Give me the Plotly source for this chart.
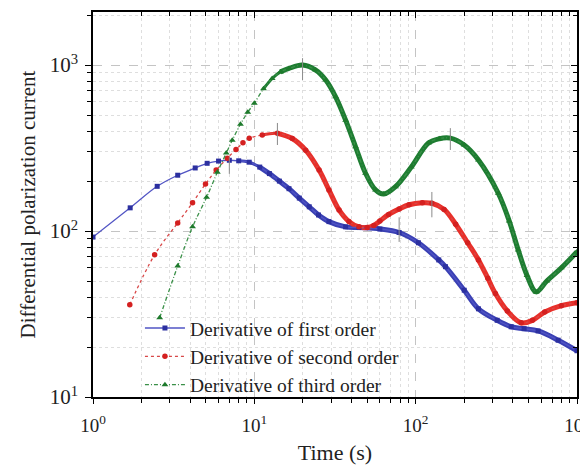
import plotly.graph_objects as go

# ---------------- data ----------------
t_first = [1.0, 1.7, 2.5, 3.35, 4.3, 5.1, 6.0, 7.0, 8.0, 9.3, 10.8, 12.4, 14.3, 16.4, 19, 21.9,
           25, 29, 36.8, 44.5, 60, 79, 104, 139, 153, 200, 245, 320, 391, 470, 574, 764, 1000]
y_first = [92, 138, 186, 217, 240, 256, 264, 267, 265, 260, 243, 222, 200, 180, 158, 140,
           125, 114, 106, 105, 103, 98, 85, 67, 61, 44, 34, 29, 26.5, 25.8, 25, 22, 19]

t_second = [1.69, 2.41, 3.35, 4.14, 4.98, 5.8, 6.8, 7.7, 8.5, 9.3, 11.2, 13.9, 17.2, 20.8, 25.2,
            29, 33.5, 38.6, 44.5, 50, 55, 60, 68, 79, 91, 110, 126, 150, 177, 210, 245,
            280, 312, 370, 451, 530, 631, 800, 1000]
y_second = [36, 72, 112, 148, 192, 233, 275, 310, 340, 362, 379, 388, 361, 307, 233,
            177, 134, 114, 106, 105, 108, 115, 126, 136, 144, 148, 147, 135, 110, 85, 67,
            52, 42, 33, 28, 29, 32.5, 35.5, 37]

t_third = [2.59, 3.35, 4.14, 5.06, 5.9, 6.7, 7.3, 8.2, 9.1, 10, 11.4, 12.9, 14.5, 16.4, 19.9,
           24, 27.7, 31.9, 36.8, 42.4, 48.9, 56.4, 63.4, 75, 94, 120, 140, 164, 200, 245, 325,
           380, 432, 490, 558, 650, 800, 1000]
y_third = [30, 61.5, 106, 160, 226, 295, 353, 440, 520, 590, 720, 830, 910, 955, 1000,
           933, 813, 644, 466, 322, 223, 177, 167, 185, 243, 339, 360, 363, 330, 268, 169,
           115, 77, 54, 43, 50, 60, 75]

# error bars (time, value, plus, minus)
err_t = [7.0, 79, 13.9, 126, 19.9, 164]
err_y = [267, 98, 388, 147, 1000, 363]
err_plus = [13, 23, 60, 25, 101, 54]
err_minus = [46, 12, 58, 26, 187, 55]

names = ["Derivative of first order", "Derivative of second order", "Derivative of third order"]

x_ticks = [1, 10, 100, 1000]
x_tick_text = ["10<sup>0</sup>", "10<sup>1</sup>", "10<sup>2</sup>", "10<sup>3</sup>"]
y_ticks = [10, 100, 1000]
y_tick_text = ["10<sup>1</sup>", "10<sup>2</sup>", "10<sup>3</sup>"]
x_minor = [2, 3, 4, 5, 6, 7, 8, 9, 20, 30, 40, 50, 60, 70, 80, 90,
           200, 300, 400, 500, 600, 700, 800, 900]
y_minor = [20, 30, 40, 50, 60, 70, 80, 90, 200, 300, 400, 500, 600, 700, 800, 900, 2000]

# ---------------- figure ----------------
FONT = "Liberation Serif, Times New Roman, serif"
fig = go.Figure()

series = [
    (t_first, y_first, names[0], "#5154c4", "#2c30a0", "#3a40b4", "solid", "square", 5, 10),
    (t_second, y_second, names[1], "#d84848", "#d42020", "#e8302a", "3px,3px", "circle", 5.5, 13),
    (t_third, y_third, names[2], "#3a9048", "#1e7a2c", "#1e7d32", "4px,2px,1px,2px", "triangle-up", 6, 14),
]

# dense-marker part of each curve (in the original the markers merge into a thick line)
for t, y, name, lc, mc, tc, dash, sym, ms, thr in series:
    for lo, w in ((thr * 0.75, 3), (thr, 5)):
        tt = [a for a in t if a >= lo]
        yy = [b for a, b in zip(t, y) if a >= lo]
        fig.add_trace(go.Scatter(x=tt, y=yy, mode="lines",
                                 line=dict(color=tc, width=w, shape="spline"),
                                 showlegend=False, hoverinfo="skip"))

for t, y, name, lc, mc, tc, dash, sym, ms, thr in series:
    fig.add_trace(go.Scatter(x=t, y=y, mode="lines+markers", name=name,
                             line=dict(color=lc, width=1.3, dash=dash, shape="spline"),
                             marker=dict(color=mc, symbol=sym, size=ms)))

fig.add_trace(go.Scatter(x=err_t, y=err_y, mode="markers", marker=dict(size=1, color="rgba(0,0,0,0)"),
                         showlegend=False, hoverinfo="skip",
                         error_y=dict(type="data", symmetric=False, array=err_plus, arrayminus=err_minus,
                                      color="#8a8a8a", thickness=1, width=0)))

# empty trace that only creates the mirror axes (top/right, inward ticks)
fig.add_trace(go.Scatter(x=[], y=[], xaxis="x2", yaxis="y2", showlegend=False))

grid_major = dict(showgrid=True, gridcolor="#c4c4c4", griddash="dash", gridwidth=1)

# the page body adds an 8px margin, so the figure is 8px smaller than the window
fig.update_layout(
    width=580, height=458,
    margin=dict(l=85, r=11, t=4, b=69, autoexpand=False),
    paper_bgcolor="white", plot_bgcolor="white",
    font=dict(family=FONT, color="#222"),
    xaxis=dict(type="log", range=[0, 3], showline=True, mirror=True, linecolor="black", linewidth=1.5,
               automargin=False,
               tickmode="array", tickvals=x_ticks, ticktext=x_tick_text,
               tickfont=dict(family=FONT, size=19, color="#222"), ticklabeloverflow="allow",
               ticklabelstandoff=5,
               ticks="outside", ticklen=5, tickcolor="black", **grid_major,
               minor=dict(tickmode="array", tickvals=x_minor, ticks="outside", ticklen=4,
                          tickcolor="black", showgrid=True, gridcolor="#dedede", griddash="dot"),
               title=dict(text="Time (s)", font=dict(family=FONT, size=22, color="#222"), standoff=10),
               zeroline=False),
    yaxis=dict(type="log", range=[1, 3.32], showline=True, mirror=True, linecolor="black", linewidth=1.5,
               automargin=False,
               tickmode="array", tickvals=y_ticks, ticktext=y_tick_text,
               tickfont=dict(family=FONT, size=21, color="#222"), ticklabelstandoff=3,
               ticks="outside", ticklen=6, tickcolor="black", **grid_major,
               minor=dict(tickmode="array", tickvals=y_minor, ticks="outside", ticklen=4,
                          tickcolor="black", showgrid=True, gridcolor="#dedede", griddash="dot"),
               title=dict(text="Differential polarization current",
                          font=dict(family=FONT, size=21, color="#222"), standoff=8),
               zeroline=False),
    xaxis2=dict(type="log", range=[0, 3], overlaying="x", side="top", showline=True,
                automargin=False,
                linecolor="black", linewidth=1.5, tickmode="array", tickvals=x_ticks,
                ticks="inside", ticklen=6, tickcolor="black", showticklabels=False, showgrid=False,
                minor=dict(tickmode="array", tickvals=x_minor, ticks="inside", ticklen=4,
                           tickcolor="black", showgrid=False),
                zeroline=False),
    yaxis2=dict(type="log", range=[1, 3.32], overlaying="y", side="right", anchor="x2",
                automargin=False,
                showline=True, linecolor="black", linewidth=1.5, tickmode="array", tickvals=y_ticks,
                ticks="inside", ticklen=6, tickcolor="black", showticklabels=False, showgrid=False,
                minor=dict(tickmode="array", tickvals=y_minor, ticks="inside", ticklen=4,
                           tickcolor="black", showgrid=False),
                zeroline=False),
    legend=dict(x=0.097, y=0.229, xanchor="left", yanchor="top", bgcolor="rgba(0,0,0,0)",
                font=dict(family=FONT, size=19.5, color="#222"), itemwidth=40, tracegroupgap=0),
)

fig.write_html("out.html")
